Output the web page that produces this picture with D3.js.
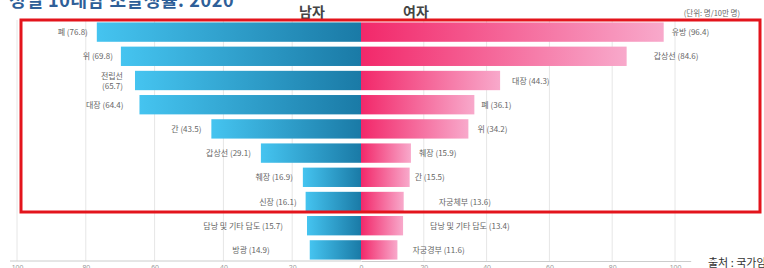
<!DOCTYPE html>
<html>
<head>
<meta charset="utf-8">
<script src="https://cdn.jsdelivr.net/npm/d3@7"></script>
<style>
  body { margin: 0; background: #fff; }
  svg { font-family: "Noto Sans CJK KR", "Noto Sans", sans-serif; display: block; }
  .lbl { font-size: 8px; fill: #666; }
  .tick text { font-size: 7px; fill: #999; }
</style>
</head>
<body>
<svg id="chart" width="764" height="268"></svg>
<script>
// 성별 10대암 조발생률 (명/10만 명), 2020
var maleNames = ["폐", "위", "전립선", "대장", "간", "갑상선", "췌장", "신장", "담낭 및 기타 담도", "방광"];
var maleValues = [76.8, 69.8, 65.7, 64.4, 43.5, 29.1, 16.9, 16.1, 15.7, 14.9];
var femaleNames = ["유방", "갑상선", "대장", "폐", "위", "췌장", "간", "자궁체부", "담낭 및 기타 담도", "자궁경부"];
var femaleValues = [96.4, 84.6, 44.3, 36.1, 34.2, 15.9, 15.5, 13.6, 13.4, 11.6];
var axisTicks = [0, 20, 40, 60, 80, 100];

// label spacing tweaks (px from bar end), as in the original layout
var maleGap = [9, 8, 12, 16, 10, 10, 10, 9, 24, 40];
var femaleGap = [8, 27, 12, 7, 9, 8, 5, 35, 27, 15];

var svg = d3.select("#chart");
var centerX = 361;
var axisY = 261;

var xLeft = d3.scaleLinear().domain([0, 100]).range([centerX, 17]);
var xRight = d3.scaleLinear().domain([0, 100]).range([centerX, 675]);
var y = d3.scaleBand().domain(d3.range(maleValues.length)).range([20, 262])
    .paddingInner(0.2).paddingOuter(0.1);

var defs = svg.append("defs");
var gm = defs.append("linearGradient").attr("id", "gMale");
gm.append("stop").attr("offset", "0%").attr("stop-color", "#45c4f0");
gm.append("stop").attr("offset", "100%").attr("stop-color", "#1a7aa6");
var gf = defs.append("linearGradient").attr("id", "gFemale");
gf.append("stop").attr("offset", "0%").attr("stop-color", "#f2286a");
gf.append("stop").attr("offset", "100%").attr("stop-color", "#f8a9cb");

// title (cut off at the top in the original)
svg.append("text").attr("x", 9).attr("y", 7)
    .style("font-size", "18px").style("font-weight", "bold").style("fill", "#2f5f98")
    .style("letter-spacing", "0.6px")
    .text("성별 10대암 조발생률: 2020");

svg.append("text").attr("x", 312).attr("y", 17).attr("text-anchor", "middle")
    .style("font-size", "14px").style("font-weight", "bold").style("fill", "#444")
    .text("남자");
svg.append("text").attr("x", 416).attr("y", 17).attr("text-anchor", "middle")
    .style("font-size", "14px").style("font-weight", "bold").style("fill", "#444")
    .text("여자");
svg.append("text").attr("x", 740).attr("y", 16).attr("text-anchor", "end")
    .style("font-size", "7.5px").style("fill", "#666")
    .text("(단위: 명/10만 명)");

// gridlines
var grid = svg.append("g");
axisTicks.forEach(function(t){
    if (t === 0) return;
    grid.append("line").attr("x1", xLeft(t)).attr("x2", xLeft(t))
        .attr("y1", 20).attr("y2", axisY).attr("stroke", "#e6e6e6");
    grid.append("line").attr("x1", xRight(t)).attr("x2", xRight(t))
        .attr("y1", 20).attr("y2", axisY).attr("stroke", "#e6e6e6");
});

// axes
var axL = svg.append("g").attr("transform", "translate(0," + axisY + ")")
    .call(d3.axisBottom(xLeft).tickValues(axisTicks).tickSize(0).tickPadding(4));
var xRightAxis = d3.scaleLinear().domain([0, 105]).range([centerX, xRight(105)]);
var axR = svg.append("g").attr("transform", "translate(0," + axisY + ")")
    .call(d3.axisBottom(xRightAxis).tickValues(axisTicks.slice(1)).tickSize(0).tickPadding(4));
[axL, axR].forEach(function(a){
    a.select(".domain").attr("stroke", "#ccc");
});
axL.select(".domain").attr("d", "M10,0H" + centerX);

// male bars
svg.append("g").selectAll("rect").data(maleValues).join("rect")
    .attr("x", function(d){ return xLeft(d); })
    .attr("y", function(d, i){ return y(i); })
    .attr("width", function(d){ return centerX - xLeft(d); })
    .attr("height", y.bandwidth())
    .attr("fill", "url(#gMale)");

// female bars
svg.append("g").selectAll("rect").data(femaleValues).join("rect")
    .attr("x", centerX)
    .attr("y", function(d, i){ return y(i); })
    .attr("width", function(d){ return xRight(d) - centerX; })
    .attr("height", y.bandwidth())
    .attr("fill", "url(#gFemale)");

// male labels
maleValues.forEach(function(v, i){
    var t = svg.append("text").attr("class", "lbl")
        .attr("text-anchor", "end")
        .attr("x", xLeft(v) - maleGap[i]);
    var cy = y(i) + y.bandwidth() / 2;
    if (maleNames[i] === "전립선") {
        t.append("tspan").attr("x", xLeft(v) - maleGap[i]).attr("y", cy - 2).text(maleNames[i]);
        t.append("tspan").attr("x", xLeft(v) - maleGap[i]).attr("y", cy + 8).text("(" + v + ")");
    } else {
        t.attr("y", cy + 3).text(maleNames[i] + " (" + v + ")");
    }
});

// female labels
femaleValues.forEach(function(v, i){
    svg.append("text").attr("class", "lbl")
        .attr("x", xRight(v) + femaleGap[i])
        .attr("y", y(i) + y.bandwidth() / 2 + 3)
        .text(femaleNames[i] + " (" + v + ")");
});

// highlight frame
svg.append("rect").attr("x", 21).attr("y", 20).attr("width", 739).attr("height", 192)
    .attr("fill", "none").attr("stroke", "#e3141c").attr("stroke-width", 3);

// source (cut off at right edge)
svg.append("text").attr("x", 708).attr("y", 267)
    .style("font-size", "11px").style("fill", "#333")
    .text("출처 : 국가암등록통계");
</script>
</body>
</html>
